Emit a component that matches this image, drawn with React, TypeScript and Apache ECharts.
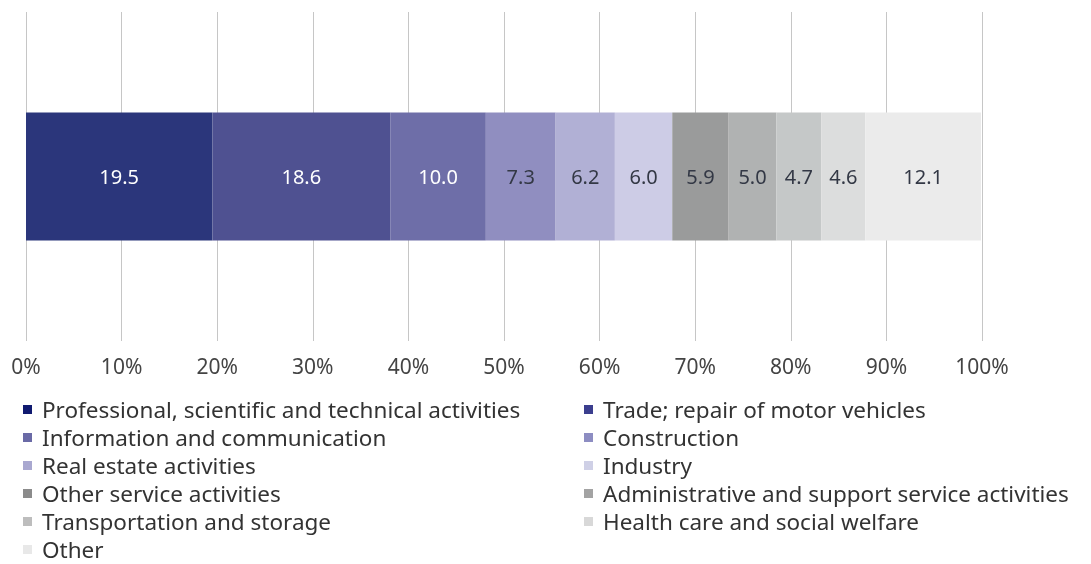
import React, { useEffect, useRef } from "react";
import * as echarts from "echarts";

const sectors = [
  "Professional, scientific and technical activities",
  "Trade; repair of motor vehicles",
  "Information and communication",
  "Construction",
  "Real estate activities",
  "Industry",
  "Other service activities",
  "Administrative and support service activities",
  "Transportation and storage",
  "Health care and social welfare",
  "Other",
];
const shares = [19.5, 18.6, 10.0, 7.3, 6.2, 6.0, 5.9, 5.0, 4.7, 4.6, 12.1];
const colors = [
  "#2b367b", "#4f5191", "#6e6ea8", "#908ec0", "#b1b0d5", "#cdcce6",
  "#9a9b9b", "#b0b2b2", "#c5c8c8", "#dcdddd", "#ebebeb",
];
const legendColors = [
  "#101a70", "#3b3e8e", "#6a6aa6", "#8d8dc2", "#a9a8d0", "#cfd0e6",
  "#8b8b8b", "#a3a3a3", "#bdbdbd", "#d8d8d8", "#e8e8e8",
];
const labelColors = [
  "#ffffff", "#ffffff", "#ffffff", "#333845", "#333845", "#333845",
  "#333845", "#333845", "#333845", "#333845", "#333845",
];
const leftLegend = [0, 2, 4, 6, 8, 10];
const rightLegend = [1, 3, 5, 7, 9];

const FONT = "Noto Sans";

export default function App() {
  const ref = useRef<HTMLDivElement>(null);
  useEffect(() => {
    const chart = echarts.init(ref.current!, null, { renderer: "svg" });
    const legendCommon = {
      orient: "vertical",
      icon: "rect",
      itemWidth: 9,
      itemHeight: 9,
      itemGap: 5,
      padding: 0,
      height: 200,
      selectedMode: false,
      textStyle: {
        fontFamily: FONT,
        fontSize: 22.5,
        color: "#333",
        lineHeight: 23,
        padding: [0, 0, 0, 5],
      },
    };
    const legendData = (idx: number[]) =>
      idx.map((i) => ({ name: sectors[i], itemStyle: { color: legendColors[i] } }));
    chart.setOption({
      animation: false,
      color: colors,
      grid: { left: 26, right: 109, top: 12, bottom: 223, containLabel: false },
      xAxis: {
        type: "value",
        min: 0,
        max: 100,
        interval: 10,
        axisLine: { show: false },
        axisTick: { show: false },
        splitLine: { show: true, lineStyle: { color: "#c6c6c6", width: 1 } },
        axisLabel: {
          formatter: "{value}%",
          fontFamily: FONT,
          fontSize: 21,
          color: "#444",
          margin: 14,
        },
      },
      yAxis: {
        type: "category",
        data: ["Share"],
        show: false,
      },
      legend: [
        { ...legendCommon, left: 23, top: 398, data: legendData(leftLegend) },
        { ...legendCommon, left: 584, top: 398, data: legendData(rightLegend) },
      ],
      series: sectors.map((name, i) => ({
        name,
        type: "bar",
        stack: "total",
        barWidth: 128,
        data: [shares[i]],
        itemStyle: { color: colors[i] },
        label: {
          show: true,
          position: "inside",
          formatter: (p: any) => Number(p.value).toFixed(1),
          fontFamily: FONT,
          fontSize: 20,
          color: labelColors[i],
        },
      })),
    });
    return () => chart.dispose();
  }, []);
  return (
    <div
      ref={ref}
      style={{ position: "fixed", left: 0, top: 0, width: 1091, height: 564 }}
    />
  );
}
